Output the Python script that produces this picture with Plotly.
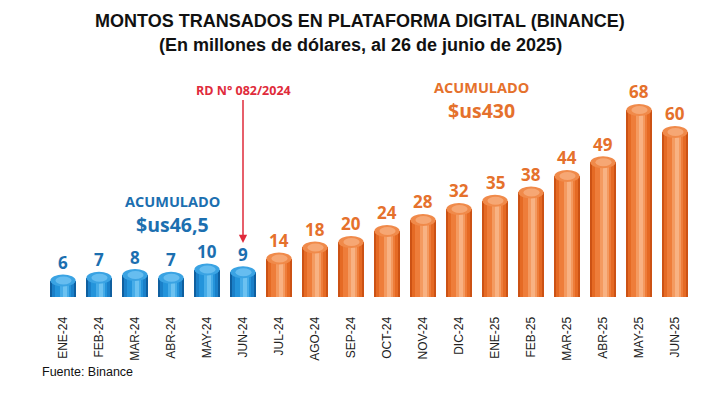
import plotly.graph_objects as go

# ---------------- data ----------------
months = ["ENE-24", "FEB-24", "MAR-24", "ABR-24", "MAY-24", "JUN-24",
          "JUL-24", "AGO-24", "SEP-24", "OCT-24", "NOV-24", "DIC-24",
          "ENE-25", "FEB-25", "MAR-25", "ABR-25", "MAY-25", "JUN-25"]
values = [6, 7, 8, 7, 10, 9, 14, 18, 20, 24, 28, 32, 35, 38, 44, 49, 68, 60]
n_before = 6  # months before RD N° 082/2024 (blue)

title_1 = "MONTOS TRANSADOS EN PLATAFORMA DIGITAL (BINANCE)"
title_2 = "(En millones de dólares, al 26 de junio de 2025)"
acum_before = ["ACUMULADO", "$us46,5"]
acum_after = ["ACUMULADO", "$us430"]
rd_label = "RD N° 082/2024"
source = "Fuente: Binance"

# ---------------- styles ----------------
BAR_W = 0.70
blue_layers = ["#0f5f9f", "#1a80c9", "#2494db", "#46ace8", "#6cc2f1"]
orange_layers = ["#cc5214", "#e56a24", "#ee7d3a", "#f49a60", "#f8b283"]
layer_w = [1.0, 0.86, 0.62, 0.36, 0.16]
layer_off = [0.0, 0.0, 0.0, 0.03, 0.05]
blue_text = "#1c6fb0"
orange_text = "#e5712c"
red = "#e02b3b"
FONT_B = "Open Sans"

# page offset (browser body margin) and plot-area geometry in page pixels
PAGE_OFF = 8
PLOT_L, PLOT_R, PLOT_T, PLOT_B = 45, 693, 80, 297
FIG_W, FIG_H = 720 - PAGE_OFF, 399 - PAGE_OFF

fig = go.Figure()

for li in range(len(layer_w)):
    cols = [blue_layers[li] if i < n_before else orange_layers[li] for i in range(len(months))]
    w = BAR_W * layer_w[li]
    fig.add_trace(go.Bar(
        x=months, y=values, width=w,
        offset=-w / 2 + layer_off[li],
        marker=dict(color=cols, line=dict(width=0)),
        hoverinfo="skip", showlegend=False,
    ))

shapes = []
for i, v in enumerate(values):
    is_blue = i < n_before
    c_side = blue_layers[1] if is_blue else orange_layers[1]
    c_top = "#3aa3e3" if is_blue else "#f08a4a"
    c_top_in = "#66bdf0" if is_blue else "#f6a774"
    shapes.append(dict(type="circle", xref="x", yref="y", ysizemode="pixel", yanchor=0,
                       x0=i - BAR_W / 2 - 0.03, x1=i + BAR_W / 2 + 0.03, y0=-9, y1=3,
                       fillcolor="#a3a3a3", line=dict(width=0), layer="below"))
    shapes.append(dict(type="circle", xref="x", yref="y", ysizemode="pixel", yanchor=0,
                       x0=i - BAR_W / 2, x1=i + BAR_W / 2, y0=-6, y1=6,
                       fillcolor=c_side, line=dict(width=0), layer="below"))
    shapes.append(dict(type="circle", xref="x", yref="y", ysizemode="pixel", yanchor=v,
                       x0=i - BAR_W / 2, x1=i + BAR_W / 2, y0=-6, y1=6,
                       fillcolor=c_top, line=dict(width=0), layer="above"))
    shapes.append(dict(type="circle", xref="x", yref="y", ysizemode="pixel", yanchor=v,
                       x0=i - BAR_W * 0.3, x1=i + BAR_W * 0.34, y0=-4, y1=4,
                       fillcolor=c_top_in, line=dict(width=0), layer="above"))

annotations = []
for i, v in enumerate(values):
    annotations.append(dict(
        x=months[i], y=v, xref="x", yref="y", text=f"<b>{v}</b>", showarrow=False,
        yanchor="middle", yshift=18,
        font=dict(family=FONT_B, size=17, color=blue_text if i < n_before else orange_text, weight=800),
    ))


def px2paper(px, py):
    return (px - PLOT_L) / (PLOT_R - PLOT_L), (PLOT_B - py) / (PLOT_B - PLOT_T)


# titles
for txt, py in [(title_1, 21), (title_2, 45)]:
    xp, yp = px2paper(360, py)
    annotations.append(dict(x=xp, y=yp, xref="paper", yref="paper", text=f"<b>{txt}</b>",
                            showarrow=False, xanchor="center", yanchor="middle",
                            font=dict(family="Liberation Sans", size=18, color="#111")))

# Acumulado texts
for txt, (px, py), size, col in [
    (acum_before[0], (172, 201), 14.5, blue_text),
    (acum_before[1], (172, 224.5), 19.5, blue_text),
    (acum_after[0], (481, 87), 14.5, orange_text),
    (acum_after[1], (481, 110.5), 19.5, orange_text),
]:
    xp, yp = px2paper(px, py)
    annotations.append(dict(x=xp, y=yp, xref="paper", yref="paper", text=f"<b>{txt}</b>",
                            showarrow=False, xanchor="center", yanchor="middle",
                            font=dict(family=FONT_B, size=size, color=col, weight=800)))

# RD arrow
_, yt = px2paper(243, 243)
annotations.append(dict(x=months[n_before - 1], y=yt, xref="x", yref="paper",
                        text=f"<b>{rd_label}</b>", showarrow=True, arrowhead=2, arrowsize=1.1,
                        arrowwidth=1.5, arrowcolor=red, ax=0, ay=-153, standoff=0,
                        font=dict(family=FONT_B, size=12.5, color=red, weight=700)))

# source
xs, ys = px2paper(40, 372)
annotations.append(dict(x=xs, y=ys, xref="paper", yref="paper", text=source, showarrow=False,
                        xanchor="left", yanchor="middle",
                        font=dict(family="Liberation Sans", size=12.5, color="#111")))

fig.update_layout(
    width=FIG_W, height=FIG_H,
    margin=dict(l=PLOT_L - PAGE_OFF, r=720 - PLOT_R, t=PLOT_T - PAGE_OFF, b=399 - PLOT_B),
    paper_bgcolor="white", plot_bgcolor="rgba(0,0,0,0)",
    barmode="overlay", bargap=0,
    shapes=shapes, annotations=annotations,
    showlegend=False,
    xaxis=dict(type="category", tickangle=-90, showgrid=False, zeroline=False, showline=False,
               ticks="outside", ticklen=14, tickcolor="rgba(0,0,0,0)",
               tickfont=dict(family="Liberation Sans", size=12, color="#222"),
               range=[-0.5, len(months) - 0.5]),
    yaxis=dict(range=[0, 78.9], visible=False, showgrid=False, zeroline=False),
)

fig.write_html("out.html")
